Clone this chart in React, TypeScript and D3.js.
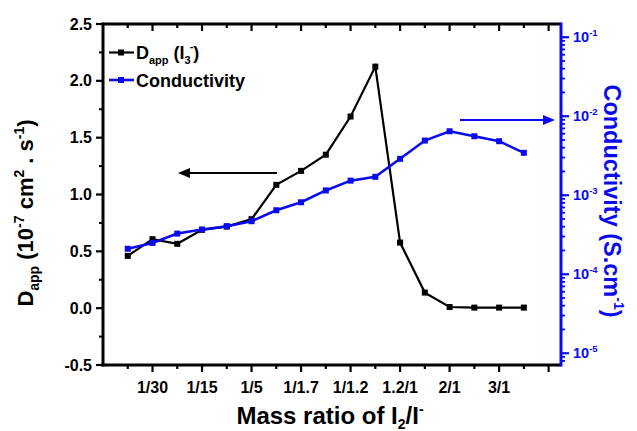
import React from "react";
import * as d3 from "d3";

const categoryIndex = [0, 1, 2, 3, 4, 5, 6, 7, 8, 9, 10, 11, 12, 13, 14, 15, 16];
const dappValues = [0.46, 0.607, 0.566, 0.689, 0.718, 0.783, 1.085, 1.208, 1.35, 1.686, 2.125, 0.577, 0.137, 0.01, 0.005, 0.005, 0.005];
const conductivityValues = [2.1e-4, 2.49e-4, 3.27e-4, 3.68e-4, 4.05e-4, 4.69e-4, 6.46e-4, 8.15e-4, 1.15e-3, 1.53e-3, 1.71e-3, 2.89e-3, 4.92e-3, 6.45e-3, 5.58e-3, 4.83e-3, 3.44e-3];
const xTickLabels = ["", "1/30", "", "1/15", "", "1/5", "", "1/1.7", "", "1/1.2", "", "1.2/1", "", "2/1", "", "3/1", "", ""];
const leftTicks = [-0.5, 0, 0.5, 1.0, 1.5, 2.0, 2.5];
const leftMinorTicks = [-0.25, 0.25, 0.75, 1.25, 1.75, 2.25];
const rightExponents = [-1, -2, -3, -4, -5];

const FONT = "Arial, 'Liberation Sans', sans-serif";
const BLUE = "#0a0af0";

export default function App() {
  const L = 103, R = 561, T = 24, B = 365;
  const x = d3.scaleLinear().domain([-1, 17.5]).range([L, R]);
  const yL = d3.scaleLinear().domain([-0.5, 2.5]).range([B, T]);
  const yR = d3.scaleLog().domain([7.1e-6, 0.147]).range([B, T]);

  const lineL = d3.line<number>().x((_, i) => x(categoryIndex[i])).y((d) => yL(d));
  const lineR = d3.line<number>().x((_, i) => x(categoryIndex[i])).y((d) => yR(d));

  const rightMinor: number[] = [];
  for (let e = -6; e <= -1; e++) {
    for (let m = 2; m <= 9; m++) {
      const v = m * Math.pow(10, e);
      if (v >= 7.1e-6 && v <= 0.147) rightMinor.push(v);
    }
  }
  const xTickIdx = xTickLabels.map((_, i) => i);

  return (
    <svg width={637} height={431} style={{ position: "absolute", left: 0, top: 0, background: "#fff" }} fontFamily={FONT}>
      <rect x={0} y={0} width={637} height={431} fill="#fff" />
      {/* x ticks bottom and top */}
      {xTickIdx.map((i) => {
        const major = i % 2 === 1;
        const xx = x(i);
        return (
          <g key={"xt" + i}>
            <line x1={xx} x2={xx} y1={B} y2={B + (major ? 7 : 4)} stroke="#000" strokeWidth={2.2} />
            <line x1={xx} x2={xx} y1={T} y2={T + (major ? 7 : 4)} stroke="#000" strokeWidth={2.2} />
            {xTickLabels[i] && (
              <text x={xx} y={B + 28} textAnchor="middle" fontSize={16} fontWeight="bold">{xTickLabels[i]}</text>
            )}
          </g>
        );
      })}
      {/* left ticks */}
      {leftTicks.map((v) => (
        <g key={"lt" + v}>
          <line x1={L - 7} x2={L} y1={yL(v)} y2={yL(v)} stroke="#000" strokeWidth={2.2} />
          <text x={L - 11} y={yL(v) + 5.5} textAnchor="end" fontSize={16} fontWeight="bold">{v.toFixed(1)}</text>
        </g>
      ))}
      {leftMinorTicks.map((v) => (
        <line key={"lm" + v} x1={L - 4} x2={L} y1={yL(v)} y2={yL(v)} stroke="#000" strokeWidth={2} />
      ))}
      {/* right ticks */}
      {rightMinor.map((v, i) => (
        <line key={"rm" + i} x1={R} x2={R + 4} y1={yR(v)} y2={yR(v)} stroke={BLUE} strokeWidth={1.8} />
      ))}
      {rightExponents.map((e) => {
        const yy = yR(Math.pow(10, e));
        return (
          <g key={"re" + e}>
            <line x1={R} x2={R + 8} y1={yy} y2={yy} stroke={BLUE} strokeWidth={2.2} />
            <text x={R + 12} y={yy + 5} fontSize={14.5} fontWeight="bold" fill={BLUE}>
              10<tspan fontSize={9.5} dy={-6}>{e}</tspan>
            </text>
          </g>
        );
      })}
      {/* frame */}
      <line x1={L} x2={R} y1={T} y2={T} stroke="#000" strokeWidth={3} />
      <line x1={L - 1.5} x2={R} y1={B} y2={B} stroke="#000" strokeWidth={3} />
      <line x1={L} x2={L} y1={T - 1.5} y2={B + 1.5} stroke="#000" strokeWidth={3} />
      <line x1={R} x2={R} y1={T - 1.5} y2={B + 1.5} stroke={BLUE} strokeWidth={3} />

      {/* data */}
      <path d={lineL(dappValues) || ""} fill="none" stroke="#000" strokeWidth={2.2} />
      {dappValues.map((d, i) => (
        <rect key={"dm" + i} x={x(categoryIndex[i]) - 3} y={yL(d) - 3} width={6} height={6} fill="#000" />
      ))}
      <path d={lineR(conductivityValues) || ""} fill="none" stroke={BLUE} strokeWidth={2.6} />
      {conductivityValues.map((d, i) => (
        <rect key={"cm" + i} x={x(categoryIndex[i]) - 3} y={yR(d) - 3} width={6} height={6} fill={BLUE} />
      ))}

      {/* arrows */}
      <line x1={277} x2={186} y1={173} y2={173} stroke="#000" strokeWidth={2} />
      <path d="M178,173 L190,168 L190,178 Z" fill="#000" />
      <line x1={460} x2={546} y1={120} y2={120} stroke={BLUE} strokeWidth={2} />
      <path d="M555,120 L543,115 L543,125 Z" fill={BLUE} />

      {/* legend */}
      <line x1={109} x2={134} y1={52.5} y2={52.5} stroke="#000" strokeWidth={2.2} />
      <rect x={118} y={49.5} width={6} height={6} fill="#000" />
      <text x={136} y={59} fontSize={18} fontWeight="bold">
        D<tspan fontSize={11} dy={5}>app</tspan>
        <tspan dy={-5}> (I</tspan>
        <tspan fontSize={11} dy={5}>3</tspan>
        <tspan fontSize={11} dx={-1} dy={-14}>-</tspan>
        <tspan dy={9}>)</tspan>
      </text>
      <line x1={109} x2={134} y1={80} y2={80} stroke={BLUE} strokeWidth={2.6} />
      <rect x={118} y={77} width={6} height={6} fill={BLUE} />
      <text x={136} y={86.5} fontSize={18} fontWeight="bold">Conductivity</text>

      {/* axis titles */}
      <text x={330} y={424} textAnchor="middle" fontSize={24} fontWeight="bold">
        Mass ratio of I<tspan fontSize={14} dy={5}>2</tspan>
        <tspan dy={-5}>/I</tspan>
        <tspan fontSize={14} dy={-10}>-</tspan>
      </text>
      <text transform="translate(33,213) rotate(-90)" textAnchor="middle" fontSize={22} fontWeight="bold">
        D<tspan fontSize={14} dy={6}>app</tspan>
        <tspan dy={-6}> (10</tspan>
        <tspan fontSize={14} dy={-9}>-7</tspan>
        <tspan dy={9}> cm</tspan>
        <tspan fontSize={14} dy={-9}>2</tspan>
        <tspan dy={9}> . s</tspan>
        <tspan fontSize={14} dy={-9}>-1</tspan>
        <tspan dy={9}>)</tspan>
      </text>
      <text transform="translate(604,201) rotate(90)" textAnchor="middle" fontSize={23.5} fontWeight="bold" fill={BLUE}>
        Conductivity (S.cm<tspan fontSize={14} dy={-10}>-1</tspan>
        <tspan dy={10}>)</tspan>
      </text>
    </svg>
  );
}
